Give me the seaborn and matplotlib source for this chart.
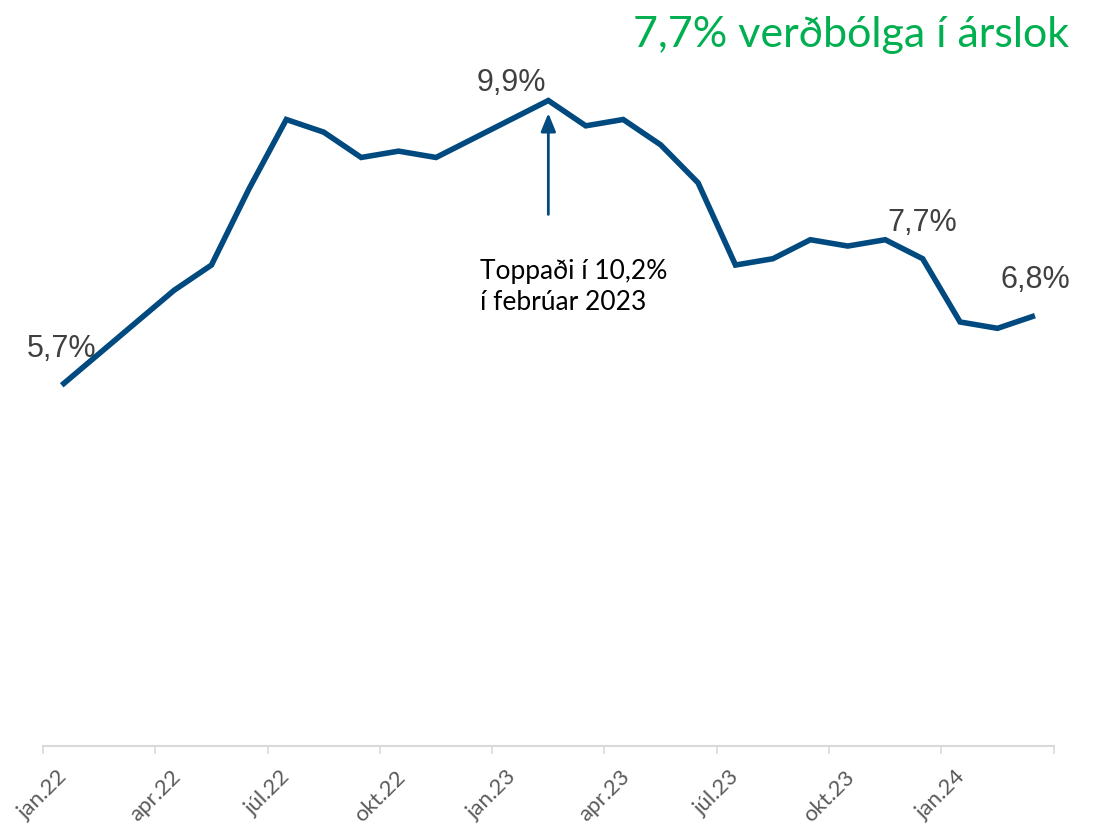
import numpy as np
import pandas as pd
import matplotlib.pyplot as plt
import seaborn as sns

# verðbólga, 12 mánaða breyting (%)
manudir = ['jan.22', 'feb.22', 'mar.22', 'apr.22', 'maí.22', 'jún.22', 'júl.22', 'ágú.22', 'sep.22',
           'okt.22', 'nóv.22', 'des.22', 'jan.23', 'feb.23', 'mar.23', 'apr.23', 'maí.23', 'jún.23',
           'júl.23', 'ágú.23', 'sep.23', 'okt.23', 'nóv.23', 'des.23', 'jan.24', 'feb.24', 'mar.24']
verdbolga = [5.7, 6.2, 6.7, 7.2, 7.6, 8.8, 9.9, 9.7, 9.3, 9.4, 9.3, 9.6, 9.9, 10.2, 9.8, 9.9,
             9.5, 8.9, 7.6, 7.7, 8.0, 7.9, 8.0, 7.7, 6.7, 6.6, 6.8]
merktir = ['jan.22', 'jan.23', 'des.23', 'mar.24']   # punktar med gildismerki
tick_labels = ['jan.22', 'apr.22', 'júl.22', 'okt.22', 'jan.23', 'apr.23', 'júl.23', 'okt.23', 'jan.24', '']

df = pd.DataFrame({'nr': np.arange(len(manudir)), 'manudur': manudir, 'verdbolga': verdbolga})

sns.set_style('white')
plt.rcParams['font.family'] = ['Lato', 'DejaVu Sans']

blar = '#004A80'
fig = plt.figure(figsize=(10.97, 8.26), dpi=100)
ax = fig.add_axes([0.0392, 0.0969, 0.9213, 0.881])

sns.lineplot(data=df, x='nr', y='verdbolga', ax=ax, color=blar, linewidth=4,
             solid_joinstyle='miter', solid_capstyle='butt')

ax.set_xlim(-0.5, len(manudir) - 0.5)
ax.set_ylim(0, 11.5)
ax.set_xticks(np.arange(-0.5, len(manudir), 3))
ax.set_xticklabels(tick_labels, rotation=45, ha='center', va='top',
                   fontsize=16, color='#595959')
ax.tick_params(axis='x', length=6, width=1.2, color='#D9D9D9', direction='out', pad=9,
               bottom=True)
ax.set_yticks([])
ax.set_xlabel('')
ax.set_ylabel('')
for s in ['top', 'left', 'right']:
    ax.spines[s].set_visible(False)
ax.spines['bottom'].set_color('#D9D9D9')
ax.spines['bottom'].set_linewidth(1.5)

# gildismerki
for m in merktir:
    r = df[df.manudur == m].iloc[0]
    ax.annotate(f"{r.verdbolga:.1f}%".replace('.', ','), (r.nr, r.verdbolga),
                xytext=(0, 26), textcoords='offset points', ha='center', va='center',
                fontsize=22, color='#404040', family=['Liberation Sans', 'DejaVu Sans'])

# hámark
topp = df.loc[df.verdbolga.idxmax()]
ax.annotate('', xy=(topp.nr, topp.verdbolga - 0.2), xytext=(topp.nr, topp.verdbolga - 1.8),
            arrowprops=dict(arrowstyle='-|>,head_length=1.1,head_width=0.45', color=blar,
                            lw=2, shrinkA=0, shrinkB=0))
ax.text(topp.nr - 1.82, topp.verdbolga - 2.5,
        f"Toppaði í {topp.verdbolga:.1f}%".replace('.', ',') + "\ní febrúar 2023",
        ha='left', va='top', fontsize=19, color='black', linespacing=1.3)

fig.text(0.975, 0.958, '7,7% verðbólga í árslok', ha='right', va='center',
         fontsize=31, color='#00B050')

fig.savefig('out.png', dpi=100)
